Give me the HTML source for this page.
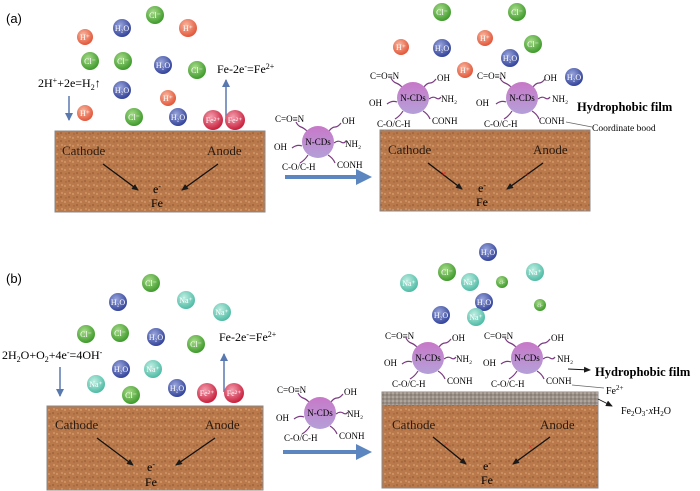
<!DOCTYPE html>
<html><head><meta charset="utf-8"><style>
html,body{margin:0;padding:0;background:#fff;}
svg{display:block;font-family:"Liberation Serif",serif;}
</style></head><body>
<svg width="700" height="491" viewBox="0 0 700 491" xmlns="http://www.w3.org/2000/svg">
<defs>
<radialGradient id="gH" cx="40%" cy="35%" r="65%"><stop offset="0" stop-color="#f8b7a0"/><stop offset="1" stop-color="#e2573a"/></radialGradient>
<radialGradient id="gC" cx="40%" cy="35%" r="65%"><stop offset="0" stop-color="#a8dc8a"/><stop offset="1" stop-color="#3f9a2c"/></radialGradient>
<radialGradient id="gW" cx="40%" cy="35%" r="65%"><stop offset="0" stop-color="#9aa6dc"/><stop offset="1" stop-color="#34449a"/></radialGradient>
<radialGradient id="gF" cx="40%" cy="35%" r="65%"><stop offset="0" stop-color="#f4a0b0"/><stop offset="1" stop-color="#c8203c"/></radialGradient>
<radialGradient id="gN" cx="40%" cy="35%" r="65%"><stop offset="0" stop-color="#bfeee2"/><stop offset="1" stop-color="#4fbba5"/></radialGradient>
<linearGradient id="gP" x1="0" y1="0" x2="0" y2="1"><stop offset="0" stop-color="#c878c8"/><stop offset="1" stop-color="#b4a0d8"/></linearGradient>
<pattern id="tex" width="8" height="8" patternUnits="userSpaceOnUse">
<rect width="8" height="8" fill="#b9794b"/>
<circle cx="1" cy="2" r="0.9" fill="#d9a070"/><circle cx="5" cy="5" r="0.8" fill="#8f5530"/><circle cx="6" cy="1" r="0.7" fill="#e0ad80"/><circle cx="2" cy="6" r="0.7" fill="#94603a"/>
</pattern>
<pattern id="film" width="4" height="4" patternUnits="userSpaceOnUse"><rect width="4" height="4" fill="#9a9088"/><circle cx="1" cy="1" r="0.8" fill="#c8c0b8"/><circle cx="3" cy="3" r="0.7" fill="#706860"/></pattern>
<marker id="ak" markerWidth="8" markerHeight="8" refX="6" refY="3" orient="auto" markerUnits="userSpaceOnUse"><path d="M0,0 L7,3 L0,6 z" fill="#1a1a1a"/></marker>
<marker id="ab" markerWidth="10" markerHeight="10" refX="7" refY="4" orient="auto" markerUnits="userSpaceOnUse"><path d="M0,0 L8,4 L0,8 z" fill="#5878b0"/></marker>
<g id="ncd">
<g fill="none" stroke="#7a3a80" stroke-width="1.2">
<path d="M-11,-11 q-3,-3 -6,-4 t-5,-5"/>
<path d="M11,-11 q3,-4 6,-4 t6,-4"/>
<path d="M-16,4 q-5,-2 -10,2"/>
<path d="M16,1 q4,-3 7,-1 t5,-1"/>
<path d="M-10,13 q-3,5 -8,8"/>
<path d="M10,13 q5,3 7,8"/>
</g>
<circle r="16" fill="url(#gP)"/>
</g>
</defs>
<g font-size="11">
<!-- Panel a -->
<text x="6" y="23" font-family="Liberation Sans" font-size="13">(a)</text>
<rect x="55" y="131" width="210" height="81" fill="url(#tex)" stroke="#888" stroke-width="1"/>
<text x="62" y="155" font-size="13" fill="#2a1a10">Cathode</text>
<text x="207" y="155" font-size="13" fill="#2a1a10">Anode</text>
<line x1="103" y1="164" x2="138" y2="190" stroke="#111" stroke-width="1.3" marker-end="url(#ak)"/>
<line x1="218" y1="164" x2="182" y2="190" stroke="#111" stroke-width="1.3" marker-end="url(#ak)"/>
<text x="153" y="193" font-size="12">e<tspan font-size="8" dy="-4">-</tspan></text>
<text x="151" y="207" font-size="12">Fe</text>
<text x="38" y="87" font-size="12">2H<tspan font-size="8" dy="-4">+</tspan><tspan dy="4">+2e=H</tspan><tspan font-size="8" dy="3">2</tspan><tspan dy="-3">↑</tspan></text>
<line x1="69" y1="96" x2="69" y2="120" stroke="#5878b0" stroke-width="1.5" marker-end="url(#ab)"/>
<text x="217" y="73" font-size="12">Fe-2e<tspan font-size="8" dy="-4">-</tspan><tspan dy="4">=Fe</tspan><tspan font-size="8" dy="-4">2+</tspan></text>
<line x1="226" y1="118" x2="226" y2="80" stroke="#5878b0" stroke-width="1.5" marker-end="url(#ab)"/>
<g font-size="8" text-anchor="middle" fill="#fff">
<circle cx="155" cy="15" r="9" fill="url(#gC)"/><text x="155" y="18">Cl⁻</text>
<circle cx="122" cy="28" r="9" fill="url(#gW)"/><text x="122" y="31">H₂O</text>
<circle cx="188" cy="28" r="9" fill="url(#gH)"/><text x="188" y="31">H⁺</text>
<circle cx="85" cy="37" r="8" fill="url(#gH)"/><text x="85" y="40">H⁺</text>
<circle cx="90" cy="61" r="9" fill="url(#gC)"/><text x="90" y="64">Cl⁻</text>
<circle cx="123" cy="61" r="9" fill="url(#gC)"/><text x="123" y="64">Cl⁻</text>
<circle cx="163" cy="65" r="9" fill="url(#gW)"/><text x="163" y="68">H₂O</text>
<circle cx="197" cy="70" r="9" fill="url(#gC)"/><text x="197" y="73">Cl⁻</text>
<circle cx="122" cy="90" r="9" fill="url(#gW)"/><text x="122" y="93">H₂O</text>
<circle cx="168" cy="98" r="8" fill="url(#gH)"/><text x="168" y="101">H⁺</text>
<circle cx="85" cy="113" r="8" fill="url(#gH)"/><text x="85" y="116">H⁺</text>
<circle cx="134" cy="117" r="9" fill="url(#gC)"/><text x="134" y="120">Cl⁻</text>
<circle cx="178" cy="117" r="9" fill="url(#gW)"/><text x="178" y="120">H₂O</text>
<circle cx="213" cy="120" r="10" fill="url(#gF)"/><text x="213" y="123">Fe²⁺</text>
<circle cx="235" cy="120" r="10" fill="url(#gF)"/><text x="235" y="123">Fe²⁺</text>
</g>
<!-- middle a -->
<use href="#ncd" x="318" y="142"/>
<g font-size="9">
<text x="318" y="145" text-anchor="middle">N-CDs</text>
<text x="275" y="122">C=O≡N</text><text x="342" y="124">OH</text>
<text x="274" y="150">OH</text><text x="345" y="147">NH₂</text>
<text x="282" y="170">C-O/C-H</text><text x="337" y="168">CONH</text>
</g>
<line x1="285" y1="177" x2="358" y2="177" stroke="#5b86c0" stroke-width="4"/>
<path d="M356,169 L372,177 L356,185 z" fill="#5b86c0"/>
<!-- right a -->
<rect x="380" y="130" width="210" height="81" fill="url(#tex)" stroke="#888" stroke-width="1"/>
<text x="388" y="154" font-size="13" fill="#2a1a10">Cathode</text>
<text x="533" y="154" font-size="13" fill="#2a1a10">Anode</text>
<line x1="428" y1="163" x2="462" y2="189" stroke="#111" stroke-width="1.3" marker-end="url(#ak)"/>
<line x1="543" y1="163" x2="507" y2="189" stroke="#111" stroke-width="1.3" marker-end="url(#ak)"/>
<text x="441" y="177" font-size="9" fill="#e03030">×</text><text x="524" y="177" font-size="9" fill="#e03030">×</text>
<text x="478" y="192" font-size="12">e<tspan font-size="8" dy="-4">-</tspan></text>
<text x="476" y="206" font-size="12">Fe</text>
<g font-size="8" text-anchor="middle" fill="#fff">
<circle cx="442" cy="12" r="9" fill="url(#gC)"/><text x="442" y="15">Cl⁻</text>
<circle cx="517" cy="12" r="9" fill="url(#gC)"/><text x="517" y="15">Cl⁻</text>
<circle cx="401" cy="47" r="8" fill="url(#gH)"/><text x="401" y="50">H⁺</text>
<circle cx="442" cy="48" r="9" fill="url(#gW)"/><text x="442" y="51">H₂O</text>
<circle cx="485" cy="38" r="8" fill="url(#gH)"/><text x="485" y="41">H⁺</text>
<circle cx="510" cy="58" r="9" fill="url(#gW)"/><text x="510" y="61">H₂O</text>
<circle cx="533" cy="44" r="9" fill="url(#gC)"/><text x="533" y="47">Cl⁻</text>
<circle cx="465" cy="70" r="8" fill="url(#gH)"/><text x="465" y="73">H⁺</text>
<circle cx="574" cy="77" r="9" fill="url(#gW)"/><text x="574" y="80">H₂O</text>
</g>
<use href="#ncd" x="413" y="98"/><use href="#ncd" x="522" y="98"/>
<g font-size="9">
<text x="413" y="101" text-anchor="middle">N-CDs</text>
<text x="370" y="79">C=O≡N</text><text x="437" y="81">OH</text>
<text x="369" y="106">OH</text><text x="441" y="102">NH₂</text>
<text x="377" y="127">C-O/C-H</text><text x="432" y="124">CONH</text>
<text x="522" y="101" text-anchor="middle">N-CDs</text>
<text x="477" y="79">C=O≡N</text><text x="544" y="81">OH</text>
<text x="476" y="106">OH</text><text x="552" y="102">NH₂</text>
<text x="484" y="127">C-O/C-H</text><text x="539" y="124">CONH</text>
<text x="592" y="131" font-size="9.5">Coordinate bood</text>
</g>
<line x1="566" y1="122" x2="592" y2="127" stroke="#666" stroke-width="0.8"/>
<text x="577" y="111" font-family="Liberation Serif" font-weight="bold" font-size="12.5">Hydrophobic film</text>

<!-- Panel b -->
<text x="6" y="283" font-family="Liberation Sans" font-size="13">(b)</text>
<rect x="47" y="406" width="216" height="84" fill="url(#tex)" stroke="#888" stroke-width="1"/>
<text x="55" y="429" font-size="13" fill="#2a1a10">Cathode</text>
<text x="205" y="429" font-size="13" fill="#2a1a10">Anode</text>
<line x1="97" y1="438" x2="133" y2="465" stroke="#111" stroke-width="1.3" marker-end="url(#ak)"/>
<line x1="215" y1="438" x2="176" y2="465" stroke="#111" stroke-width="1.3" marker-end="url(#ak)"/>
<text x="147" y="471" font-size="12">e<tspan font-size="8" dy="-4">-</tspan></text>
<text x="145" y="486" font-size="12">Fe</text>
<text x="2" y="359" font-size="12">2H<tspan font-size="8" dy="3">2</tspan><tspan dy="-3">O+O</tspan><tspan font-size="8" dy="3">2</tspan><tspan dy="-3">+4e</tspan><tspan font-size="8" dy="-4">-</tspan><tspan dy="4">=4OH</tspan><tspan font-size="8" dy="-4">-</tspan></text>
<line x1="60" y1="367" x2="60" y2="396" stroke="#5878b0" stroke-width="1.5" marker-end="url(#ab)"/>
<text x="219" y="341" font-size="12">Fe-2e<tspan font-size="8" dy="-4">-</tspan><tspan dy="4">=Fe</tspan><tspan font-size="8" dy="-4">2+</tspan></text>
<line x1="224" y1="392" x2="224" y2="354" stroke="#5878b0" stroke-width="1.5" marker-end="url(#ab)"/>
<g font-size="8" text-anchor="middle" fill="#fff">
<circle cx="151" cy="283" r="9" fill="url(#gC)"/><text x="151" y="286">Cl⁻</text>
<circle cx="118" cy="302" r="9" fill="url(#gW)"/><text x="118" y="305">H₂O</text>
<circle cx="186" cy="300" r="9" fill="url(#gN)"/><text x="186" y="303">Na⁺</text>
<circle cx="222" cy="312" r="9" fill="url(#gN)"/><text x="222" y="315">Na⁺</text>
<circle cx="86" cy="334" r="9" fill="url(#gC)"/><text x="86" y="337">Cl⁻</text>
<circle cx="120" cy="333" r="9" fill="url(#gC)"/><text x="120" y="336">Cl⁻</text>
<circle cx="156" cy="337" r="9" fill="url(#gW)"/><text x="156" y="340">H₂O</text>
<circle cx="196" cy="344" r="9" fill="url(#gC)"/><text x="196" y="347">Cl⁻</text>
<circle cx="121" cy="369" r="9" fill="url(#gW)"/><text x="121" y="372">H₂O</text>
<circle cx="153" cy="369" r="9" fill="url(#gN)"/><text x="153" y="372">Na⁺</text>
<circle cx="96" cy="384" r="9" fill="url(#gN)"/><text x="96" y="387">Na⁺</text>
<circle cx="131" cy="395" r="9" fill="url(#gC)"/><text x="131" y="398">Cl⁻</text>
<circle cx="177" cy="388" r="9" fill="url(#gW)"/><text x="177" y="391">H₂O</text>
<circle cx="207" cy="393" r="10" fill="url(#gF)"/><text x="207" y="396">Fe²⁺</text>
<circle cx="234" cy="393" r="10" fill="url(#gF)"/><text x="234" y="396">Fe²⁺</text>
</g>
<use href="#ncd" x="320" y="413"/>
<g font-size="9">
<text x="320" y="416" text-anchor="middle">N-CDs</text>
<text x="277" y="393">C=O≡N</text><text x="344" y="395">OH</text>
<text x="276" y="421">OH</text><text x="347" y="417">NH₂</text>
<text x="284" y="441">C-O/C-H</text><text x="339" y="439">CONH</text>
</g>
<line x1="283" y1="452" x2="358" y2="452" stroke="#5b86c0" stroke-width="4"/>
<path d="M356,444 L372,452 L356,460 z" fill="#5b86c0"/>
<!-- right b -->
<rect x="382" y="392" width="216" height="96" fill="url(#tex)" stroke="#888" stroke-width="1"/>
<rect x="382" y="392" width="216" height="13" fill="url(#film)"/>
<text x="392" y="429" font-size="13" fill="#2a1a10">Cathode</text>
<text x="540" y="429" font-size="13" fill="#2a1a10">Anode</text>
<line x1="433" y1="437" x2="466" y2="464" stroke="#111" stroke-width="1.3" marker-end="url(#ak)"/>
<line x1="550" y1="437" x2="513" y2="464" stroke="#111" stroke-width="1.3" marker-end="url(#ak)"/>
<text x="444" y="447" font-size="9" fill="#e03030">×</text><text x="528" y="450" font-size="9" fill="#e03030">×</text>
<text x="483" y="470" font-size="12">e<tspan font-size="8" dy="-4">-</tspan></text>
<text x="481" y="484" font-size="12">Fe</text>
<g font-size="8" text-anchor="middle" fill="#fff">
<circle cx="488" cy="252" r="9" fill="url(#gW)"/><text x="488" y="255">H₂O</text>
<circle cx="447" cy="272" r="9" fill="url(#gC)"/><text x="447" y="275">Cl⁻</text>
<circle cx="470" cy="282" r="9" fill="url(#gN)"/><text x="470" y="285">Na⁺</text>
<circle cx="502" cy="282" r="6" fill="url(#gC)"/><text x="502" y="284" font-size="5">cl-</text>
<circle cx="535" cy="272" r="9" fill="url(#gN)"/><text x="535" y="275">Na⁺</text>
<circle cx="409" cy="283" r="9" fill="url(#gN)"/><text x="409" y="286">Na⁺</text>
<circle cx="484" cy="302" r="9" fill="url(#gW)"/><text x="484" y="305">H₂O</text>
<circle cx="540" cy="305" r="6" fill="url(#gC)"/><text x="540" y="307" font-size="5">cl-</text>
<circle cx="441" cy="315" r="9" fill="url(#gW)"/><text x="441" y="318">H₂O</text>
<circle cx="476" cy="317" r="9" fill="url(#gN)"/><text x="476" y="320">Na⁺</text>
</g>
<use href="#ncd" x="428" y="358"/><use href="#ncd" x="527" y="358"/>
<g font-size="9">
<text x="428" y="361" text-anchor="middle">N-CDs</text>
<text x="385" y="339">C=O≡N</text><text x="452" y="341">OH</text>
<text x="384" y="366">OH</text><text x="456" y="362">NH₂</text>
<text x="392" y="387">C-O/C-H</text><text x="447" y="384">CONH</text>
<text x="527" y="361" text-anchor="middle">N-CDs</text>
<text x="484" y="339">C=O≡N</text><text x="551" y="341">OH</text>
<text x="483" y="366">OH</text><text x="557" y="362">NH₂</text>
<text x="491" y="387">C-O/C-H</text><text x="546" y="384">CONH</text>
<text x="606" y="394" font-size="10">Fe<tspan font-size="7" dy="-4">2+</tspan></text>
<text x="621" y="414" font-size="10">Fe<tspan font-size="7" dy="2">2</tspan><tspan dy="-2">O</tspan><tspan font-size="7" dy="2">3</tspan><tspan dy="-2">·</tspan><tspan font-style="italic">x</tspan>H<tspan font-size="7" dy="2">2</tspan><tspan dy="-2">O</tspan></text>
</g>
<line x1="572" y1="385" x2="604" y2="388" stroke="#666" stroke-width="0.8"/>
<line x1="598" y1="399" x2="612" y2="406" stroke="#111" stroke-width="0.8" marker-end="url(#ak)"/>
<line x1="568" y1="369" x2="590" y2="370" stroke="#111" stroke-width="1" marker-end="url(#ak)"/>
<text x="595" y="376" font-family="Liberation Serif" font-weight="bold" font-size="12.5">Hydrophobic film</text>
</g>
</svg>
</body></html>
